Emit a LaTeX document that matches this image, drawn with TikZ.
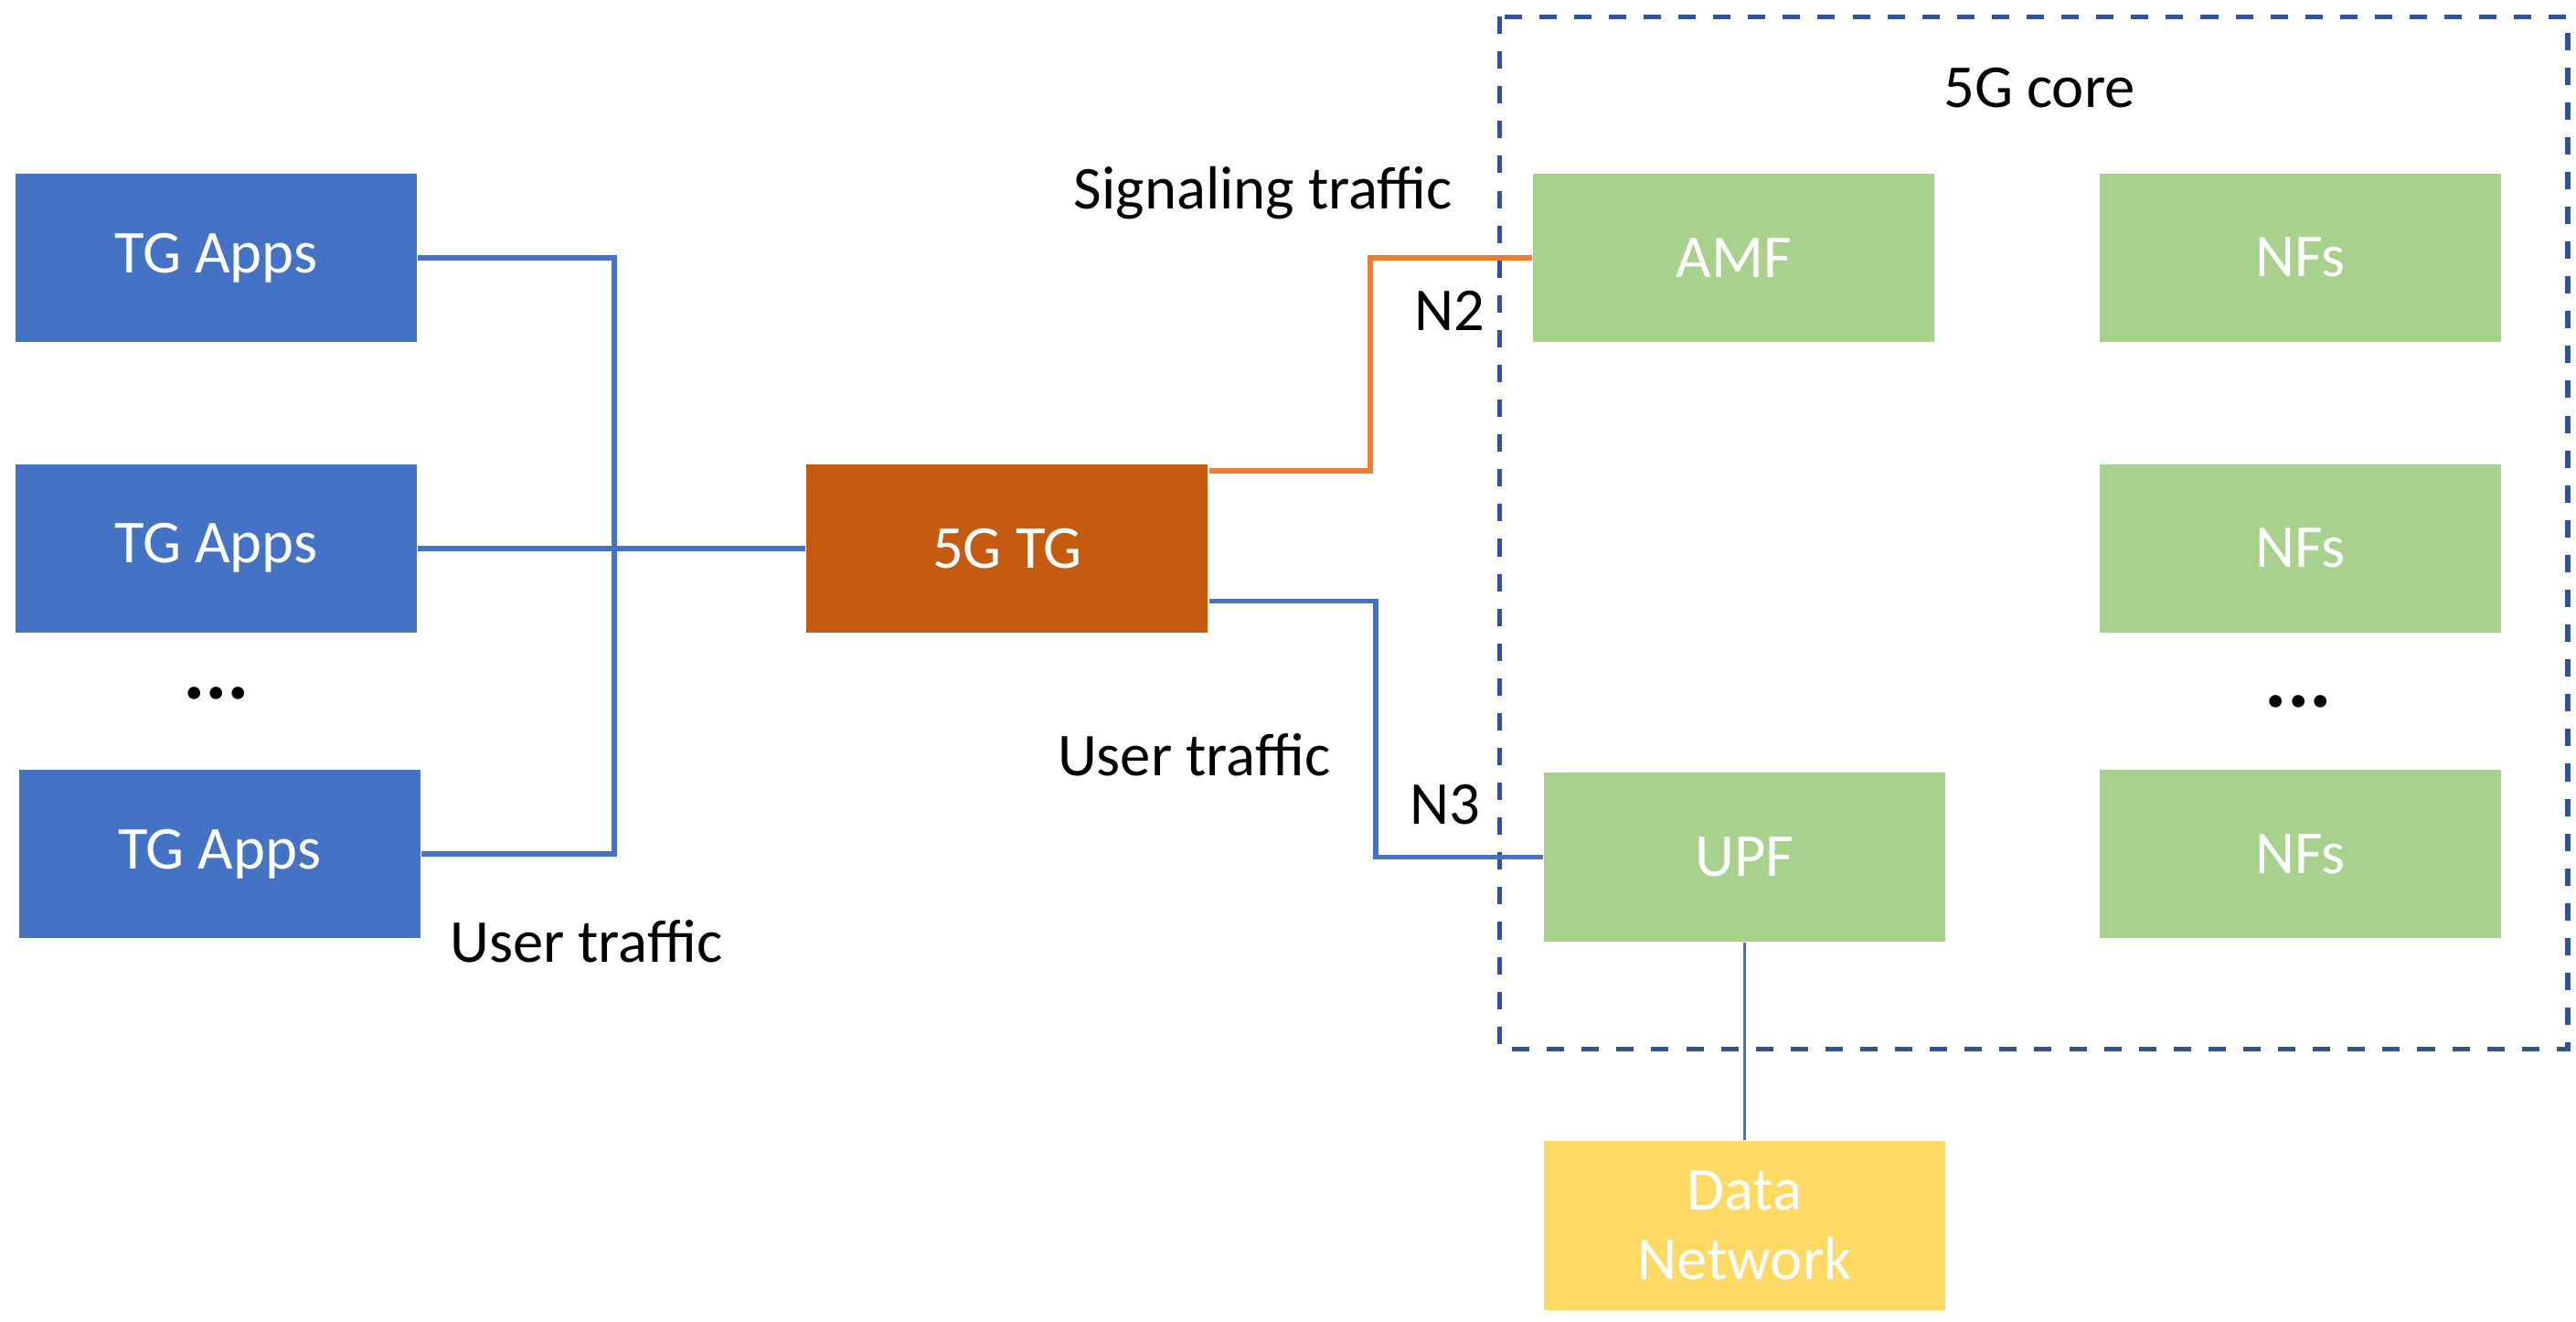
\documentclass[tikz,border=0pt]{standalone}
\usepackage{fontspec}
\setmainfont{Carlito}
\usetikzlibrary{positioning}
\definecolor{appblue}{HTML}{4472C4}
\definecolor{tgorange}{HTML}{C55A11}
\definecolor{sigorange}{HTML}{ED7D31}
\definecolor{nfgreen}{HTML}{A9D18E}
\definecolor{dnyellow}{HTML}{FFD966}
\definecolor{coreblue}{HTML}{2F5597}
\tikzset{
  box/.style={minimum width=2.43cm, minimum height=1.02cm, inner sep=0pt, text=white, font=\fontsize{10.5}{12}\selectfont},
  app/.style={box, fill=appblue},
  nf/.style={box, fill=nfgreen},
  lbl/.style={font=\fontsize{10.5}{12}\selectfont},
  link/.style={appblue, line width=0.9pt}
}
\begin{document}
\begin{tikzpicture}
\useasboundingbox (0,0) rectangle (15.6,-8.0);
% traffic generator side
\node[app] (app1) at (1.31,-1.56) {TG Apps};
\node[app] (app2) at (1.31,-3.32) {TG Apps};
\node[app] (app3) at (1.33,-5.17) {TG Apps};
\node[font=\Large\bfseries] at (1.31,-4.2) {...};
\node[box, fill=tgorange] (tg) at (6.10,-3.32) {5G TG};
\coordinate (bus1) at (3.72,-1.56);
\coordinate (bus3) at (3.72,-5.17);
\draw[link] (app1.east) -- (bus1) -- (bus3) -- (app3.east);
\draw[link] (app2.east) -- (tg.west);
\node[lbl] at (3.55,-5.70) {User traffic};
% 5G core
\draw[coreblue, dashed, line width=0.8pt] (9.08,-0.10) rectangle (15.55,-6.35);
\node[lbl] at (12.35,-0.53) {5G core};
\node[nf] (amf) at (10.50,-1.56) {AMF};
\node[nf] (upf) at (10.565,-5.19) {UPF};
\node[nf] (nf1) at (13.93,-1.56) {NFs};
\node[nf] (nf2) at (13.93,-3.32) {NFs};
\node[nf] (nf3) at (13.93,-5.17) {NFs};
\node[font=\Large\bfseries] at (13.92,-4.25) {...};
\node[box, fill=dnyellow, align=center] (dn) at (10.565,-7.42) {Data\\Network};
% interfaces
\coordinate (n2) at (8.30,-2.85);
\coordinate (n3) at (8.33,-3.64);
\draw[sigorange, line width=0.9pt] (tg.east |- n2) -- (n2) |- (amf.west);
\draw[link] (tg.east |- n3) -- (n3) |- (upf.west);
\draw[appblue, line width=0.5pt] (upf.south) -- (dn.north);
\node[lbl] at (7.65,-1.17) {Signaling traffic};
\node[lbl] at (8.78,-1.88) {N2};
\node[lbl] at (7.23,-4.57) {User traffic};
\node[lbl] at (8.75,-4.87) {N3};
\end{tikzpicture}
\end{document}
